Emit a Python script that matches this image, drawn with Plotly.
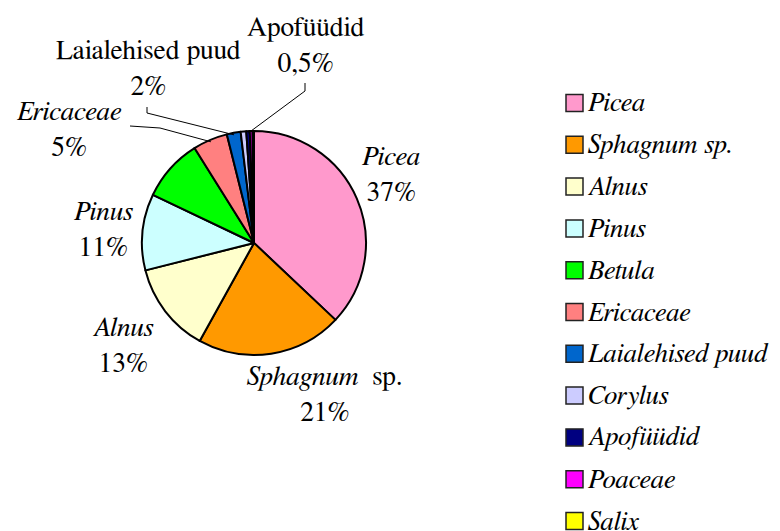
import math
import plotly.graph_objects as go

# ---- data ----
categories = ["Picea", "Sphagnum sp.", "Alnus", "Pinus", "Betula", "Ericaceae",
              "Laialehised puud", "Corylus", "Apofüüdid", "Poaceae", "Salix"]
values = [37, 21, 13, 11, 9, 5, 2, 0.8, 0.5, 0.4, 0.2]
colors = ["#FF99CC", "#FF9900", "#FFFFCC", "#CCFFFF", "#00FF00", "#FF8080",
          "#0066CC", "#CCCCFF", "#000080", "#FF00FF", "#FFFF00"]
legend_labels = ["<i>Picea</i>", "<i>Sphagnum sp.</i>", "<i>Alnus</i>", "<i>Pinus</i>",
                 "<i>Betula</i>", "<i>Ericaceae</i>", "<i>Laialehised puud</i>",
                 "<i>Corylus</i>", "<i>Apofüüdid</i>", "<i>Poaceae</i>", "<i>Salix</i>"]
slice_labels = {
    "Picea": "<i>Picea</i><br>37%",
    "Sphagnum sp.": "<i>Sphagnum</i>  sp.<br>21%",
    "Alnus": "<i>Alnus</i><br>13%",
    "Pinus": "<i>Pinus</i><br>11%",
    "Ericaceae": "<i>Ericaceae</i><br>5%",
    "Laialehised puud": "Laialehised puud<br>2%",
    "Apofüüdid": "Apofüüdid<br>0,5%",
}

W, H = 780, 531
FONT = "FreeSerif, Liberation Serif, serif"
OFF = 8  # page body margin in the browser

def px(x):
    return (x - OFF) / W

def py(y):
    return 1 - (y - OFF) / H

cx, cy, r = 254, 243, 112

fig = go.Figure()
fig.add_trace(go.Pie(
    labels=categories, values=values, sort=False, direction="clockwise",
    rotation=0, textinfo="none", hoverinfo="label+percent",
    marker=dict(colors=colors, line=dict(color="black", width=2)),
    domain=dict(x=[px(cx - r), px(cx + r)], y=[py(cy + r), py(cy - r)]),
    showlegend=False,
))

# slice mid-angles (from data)
total = sum(values)
mid = {}
acc = 0
for c, v in zip(categories, values):
    mid[c] = (acc + v / 2) / total * 2 * math.pi
    acc += v

def edge(c, rr=r):
    a = mid[c]
    return cx + rr * math.sin(a), cy - rr * math.cos(a)

# label block positions (pixel centers)
label_pos = {
    "Apofüüdid": (306, 46),
    "Laialehised puud": (148, 69),
    "Ericaceae": (70, 130),
    "Picea": (391, 175),
    "Pinus": (103, 230),
    "Alnus": (123, 346),
    "Sphagnum sp.": (325, 395),
}

annotations = []
for c, txt in slice_labels.items():
    x, y = label_pos[c]
    annotations.append(dict(
        x=px(x), y=py(y), xref="paper", yref="paper", text=txt, showarrow=False,
        xanchor="center", yanchor="middle", align="center",
        font=dict(family=FONT, size=27.5, color="black")))

shapes = []
# leader lines
leaders = {
    "Apofüüdid": [(305, 83), (305, 91)],
    "Laialehised puud": [(147, 107), (147, 113)],
    "Ericaceae": [(130, 126), (160, 128)],
}
for c, pts in leaders.items():
    ex, ey = edge(c, r - 2)
    allpts = pts + [(ex, ey)]
    for (x0, y0), (x1, y1) in zip(allpts[:-1], allpts[1:]):
        shapes.append(dict(type="line", xref="paper", yref="paper",
                           x0=px(x0), y0=py(y0), x1=px(x1), y1=py(y1),
                           line=dict(color="black", width=1)))

# legend (manual)
ly0, lstep = 103, 41.8
for i, (lab, col) in enumerate(zip(legend_labels, colors)):
    yc = ly0 + i * lstep
    shapes.append(dict(type="rect", xref="paper", yref="paper",
                       x0=px(566), x1=px(583), y0=py(yc + 8.5), y1=py(yc - 8.5),
                       fillcolor=col, line=dict(color="#222222", width=1.5)))
    annotations.append(dict(
        x=px(586), y=py(yc), xref="paper", yref="paper", text=lab, showarrow=False,
        xanchor="left", yanchor="middle",
        font=dict(family=FONT, size=27, color="black")))

fig.update_layout(
    width=W, height=H, margin=dict(l=0, r=0, t=0, b=0),
    paper_bgcolor="white", plot_bgcolor="white",
    annotations=annotations, shapes=shapes, showlegend=False,
)
fig.write_html("out.html")
